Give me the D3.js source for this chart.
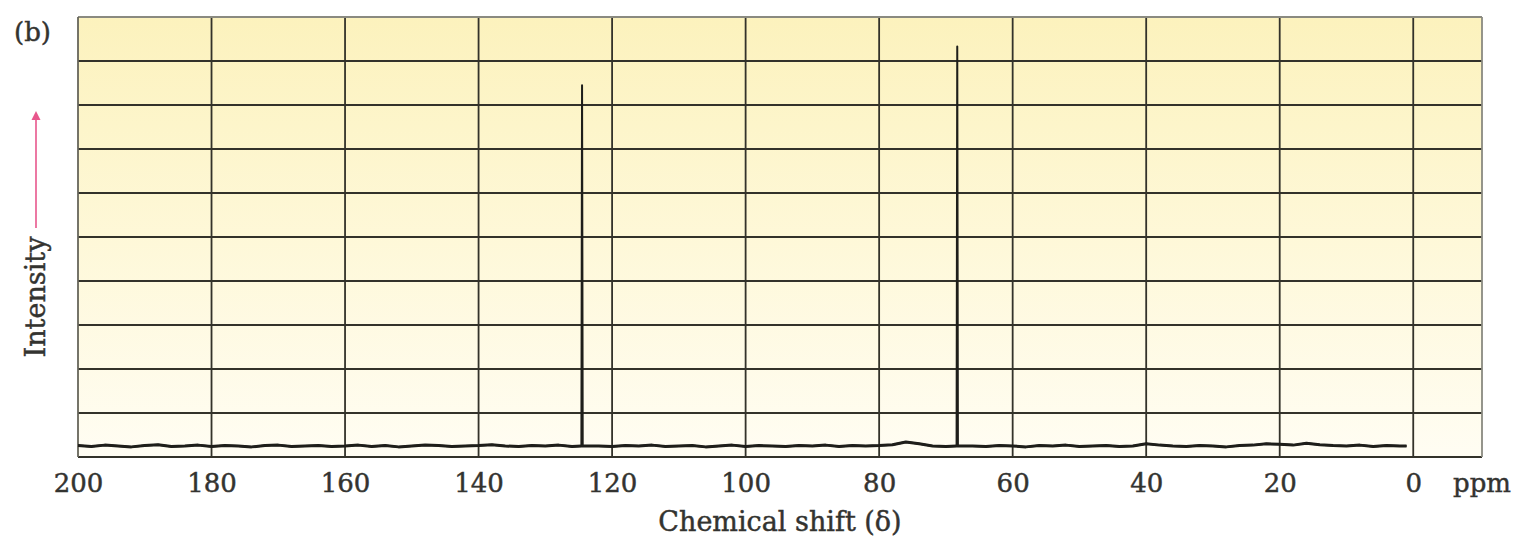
<!DOCTYPE html>
<html>
<head>
<meta charset="utf-8">
<script src="https://cdn.jsdelivr.net/npm/d3@7"></script>
<style>
  html, body { margin: 0; padding: 0; background: #ffffff; }
  svg text { font-family: "DejaVu Serif", "Liberation Serif", serif; fill: #333330; stroke: #333330; stroke-width: 0.45px; }
</style>
</head>
<body>
<svg id="chart" width="1517" height="536"></svg>
<script>
// 13C NMR spectrum, chemical shift axis runs right-to-left
const xTicks = [200, 180, 160, 140, 120, 100, 80, 60, 40, 20, 0];
const yGrid = [0, 1, 2, 3, 4, 5, 6, 7, 8, 9, 10];

// baseline sampled every 2 ppm from 200 down to 2 ppm
const baselinePpm = d3.range(200, 0, -2);
const baselineIntensity = [
  0.26,0.24,0.27,0.25,0.23,0.26,0.28,0.24,0.25,0.27,0.24,0.26,0.25,0.23,0.26,0.27,0.24,0.25,0.26,0.24,
  0.25,0.27,0.24,0.26,0.23,0.25,0.27,0.26,0.24,0.25,0.26,0.28,0.25,0.24,0.26,0.25,0.27,0.24,0.26,0.25,
  0.24,0.26,0.25,0.27,0.24,0.25,0.26,0.23,0.25,0.27,0.24,0.26,0.25,0.24,0.26,0.25,0.27,0.24,0.26,0.25,
  0.26,0.28,0.34,0.30,0.25,0.24,0.27,0.25,0.24,0.26,0.25,0.23,0.26,0.25,0.27,0.24,0.25,0.26,0.24,0.25,
  0.30,0.27,0.25,0.24,0.26,0.25,0.23,0.26,0.27,0.30,0.29,0.27,0.31,0.28,0.26,0.25,0.27,0.24,0.26,0.25
];
const baselineEnd = { ppm: 1, intensity: 0.25 };

// the two sharp resonances
const peakPpm = [124.5, 68.3];
const peakHeight = [8.45, 9.33];
const peakBase = 0.25;

const svg = d3.select("#chart");
const margin = { left: 78, top: 17, right: 35, bottom: 79 };
const W = 1517, H = 536;

const x = d3.scaleLinear().domain([200, -10.3]).range([margin.left, W - margin.right]);
const y = d3.scaleLinear().domain([0, 10]).range([H - margin.bottom, margin.top]);

// background gradient
const defs = svg.append("defs");
const grad = defs.append("linearGradient").attr("id", "bg").attr("x1", 0).attr("x2", 0).attr("y1", 0).attr("y2", 1);
grad.append("stop").attr("offset", "0%").attr("stop-color", "#fcf2bd");
grad.append("stop").attr("offset", "50%").attr("stop-color", "#fef8d8");
grad.append("stop").attr("offset", "100%").attr("stop-color", "#fffdf3");

svg.append("rect")
  .attr("x", x(200)).attr("y", y(10))
  .attr("width", x(-10.3) - x(200)).attr("height", y(0) - y(10))
  .attr("fill", "url(#bg)");

// horizontal gridlines
svg.append("g").selectAll("line").data(yGrid.filter(d => d > 0 && d < 10)).join("line")
  .attr("x1", x(200)).attr("x2", x(-10.3))
  .attr("y1", d => y(d)).attr("y2", d => y(d))
  .attr("stroke", "#33322a").attr("stroke-width", 1.8);

// vertical gridlines
svg.append("g").selectAll("line").data(xTicks.filter(d => d < 200)).join("line")
  .attr("x1", d => x(d)).attr("x2", d => x(d))
  .attr("y1", y(10)).attr("y2", y(0))
  .attr("stroke", "#33322a").attr("stroke-width", 1.8);

// frame
svg.append("line").attr("x1", x(200)).attr("x2", x(-10.3)).attr("y1", y(10)).attr("y2", y(10))
  .attr("stroke", "#8a8a80").attr("stroke-width", 1.8);
svg.append("line").attr("x1", x(200)).attr("x2", x(-10.3)).attr("y1", y(0)).attr("y2", y(0))
  .attr("stroke", "#33322a").attr("stroke-width", 1.8);
svg.append("line").attr("x1", x(200)).attr("x2", x(200)).attr("y1", y(10)).attr("y2", y(0))
  .attr("stroke", "#66655a").attr("stroke-width", 1.8);
svg.append("line").attr("x1", x(-10.3)).attr("x2", x(-10.3)).attr("y1", y(10)).attr("y2", y(0))
  .attr("stroke", "#8a8a80").attr("stroke-width", 1.8);

// assemble spectrum points
let pts = baselinePpm.map((p, i) => ({ ppm: p, v: baselineIntensity[i] }));
pts.push({ ppm: baselineEnd.ppm, v: baselineEnd.intensity });
peakPpm.forEach((p, i) => {
  pts = pts.filter(d => Math.abs(d.ppm - p) > 0.5);
  pts.push({ ppm: p + 0.1, v: peakBase });
  pts.push({ ppm: p, v: peakHeight[i] });
  pts.push({ ppm: p - 0.1, v: peakBase });
});
pts.sort((a, b) => b.ppm - a.ppm);

const line = d3.line().x(d => x(d.ppm)).y(d => y(d.v));
// thick noisy baseline
svg.append("path").datum(pts.filter(d => d.v < 1))
  .attr("d", line)
  .attr("fill", "none").attr("stroke", "#1e1e1a").attr("stroke-width", 3)
  .attr("stroke-linejoin", "round");
// full trace including the sharp lines
svg.append("path").datum(pts)
  .attr("d", line)
  .attr("fill", "none").attr("stroke", "#1e1e1a").attr("stroke-width", 2)
  .attr("stroke-linejoin", "round");

// axis labels
const xAxis = d3.axisBottom(x).tickValues(xTicks).tickSize(0).tickPadding(0);
const gx = svg.append("g").attr("transform", `translate(0,${y(0) + 35})`).call(xAxis);
gx.select(".domain").remove();
gx.selectAll("text")
  .attr("dy", 0)
  .style("font-size", "26px")
  .style("font-family", '"DejaVu Serif", serif')
  .attr("fill", "#333330");

svg.append("text").attr("x", 1453).attr("y", y(0) + 35)
  .style("font-size", "26px").text("ppm");

svg.append("text").attr("x", 780).attr("y", 531).attr("text-anchor", "middle")
  .style("font-size", "27px").text("Chemical shift (δ)");

svg.append("text").attr("x", 14).attr("y", 41)
  .style("font-size", "26px").text("(b)");

svg.append("text")
  .attr("transform", "translate(45,297) rotate(-90)")
  .attr("text-anchor", "middle")
  .style("font-size", "27px").text("Intensity");

// intensity arrow
svg.append("line").attr("x1", 36).attr("x2", 36).attr("y1", 228).attr("y2", 116)
  .attr("stroke", "#e8578c").attr("stroke-width", 1.6);
svg.append("path").attr("d", "M36,111 L31.5,120 L40.5,120 Z").attr("fill", "#e8578c");
</script>
</body>
</html>
